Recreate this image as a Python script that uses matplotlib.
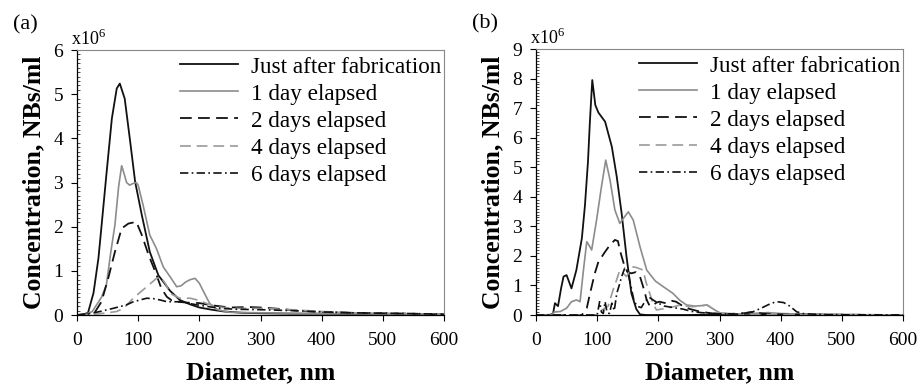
import matplotlib
matplotlib.use("Agg")
import matplotlib.pyplot as plt
from matplotlib.ticker import MultipleLocator

plt.rcParams['font.family'] = ['Liberation Serif', 'DejaVu Serif']
plt.rcParams['mathtext.fontset'] = 'custom'
plt.rcParams['mathtext.rm'] = 'Liberation Serif'

labels = ["Just after fabrication", "1 day elapsed", "2 days elapsed",
          "4 days elapsed", "6 days elapsed"]

# ---- Panel (a) data (diameter nm, concentration x1e6 NBs/ml)
a_fresh_x = [0, 10, 18, 27, 35, 40, 48, 57, 65, 70, 78, 87, 95, 106, 119, 133, 145, 152, 168, 185, 200, 220, 240, 270, 300, 350, 400, 450, 500, 550, 600]
a_fresh_y = [0, 0.01, 0.05, 0.5, 1.28, 2.0, 3.17, 4.45, 5.13, 5.24, 4.9, 3.92, 3.02, 2.26, 1.43, 0.9, 0.68, 0.55, 0.34, 0.24, 0.17, 0.12, 0.08, 0.05, 0.04, 0.03, 0.03, 0.02, 0.02, 0.01, 0.0]

a_1day_x = [0, 15, 25, 32, 40, 48, 55, 62, 68, 73, 77, 81, 86, 92, 97, 100, 108, 119, 130, 141, 152, 163, 170, 178, 185, 193, 200, 208, 217, 230, 250, 300, 350, 400, 500, 600]
a_1day_y = [0, 0.02, 0.08, 0.23, 0.4, 0.68, 1.4, 2.04, 2.9, 3.38, 3.2, 3.0, 2.94, 2.98, 3.0, 2.94, 2.49, 1.81, 1.5, 1.09, 0.87, 0.64, 0.66, 0.75, 0.8, 0.83, 0.72, 0.5, 0.26, 0.12, 0.06, 0.05, 0.04, 0.03, 0.02, 0.01]

a_2day_x = [0, 20, 30, 40, 51, 62, 73, 84, 97, 106, 117, 128, 138, 147, 155, 165, 180, 200, 220, 250, 280, 300, 330, 360, 400, 450, 500, 550, 600]
a_2day_y = [0, 0.02, 0.08, 0.3, 0.83, 1.43, 1.96, 2.07, 2.11, 1.81, 1.36, 0.98, 0.6, 0.41, 0.33, 0.3, 0.28, 0.27, 0.22, 0.17, 0.18, 0.17, 0.14, 0.1, 0.07, 0.05, 0.04, 0.03, 0.01]

a_4day_x = [0, 30, 50, 65, 76, 92, 114, 130, 137, 145, 152, 168, 185, 200, 212, 230, 260, 300, 350, 400, 450, 500, 550, 600]
a_4day_y = [0, 0.02, 0.05, 0.08, 0.15, 0.38, 0.64, 0.83, 0.86, 0.7, 0.49, 0.38, 0.38, 0.33, 0.26, 0.18, 0.15, 0.15, 0.12, 0.08, 0.05, 0.04, 0.03, 0.01]

a_6day_x = [0, 20, 38, 59, 70, 81, 92, 114, 125, 136, 147, 168, 196, 234, 260, 300, 350, 400, 450, 500, 550, 600]
a_6day_y = [0, 0.03, 0.08, 0.15, 0.19, 0.23, 0.3, 0.38, 0.37, 0.34, 0.3, 0.3, 0.23, 0.15, 0.13, 0.12, 0.1, 0.07, 0.05, 0.04, 0.03, 0.02]

# ---- Panel (b) data
b_fresh_x = [0, 20, 25, 28, 31, 36, 41, 45, 50, 58, 66, 75, 80, 85, 88, 92, 97, 102, 113, 124, 132, 140, 148, 156, 164, 170, 180, 250, 300, 400, 600]
b_fresh_y = [0, 0, 0.02, 0.06, 0.4, 0.3, 0.9, 1.3, 1.35, 0.9, 1.52, 2.6, 3.7, 5.2, 6.5, 7.95, 7.1, 6.85, 6.54, 5.69, 4.68, 3.44, 1.97, 0.73, 0.2, 0.02, 0, 0, 0.02, 0.0, 0]

b_1day_x = [0, 25, 30, 40, 50, 58, 66, 72, 78, 83, 87, 91, 99, 107, 114, 121, 129, 137, 145, 151, 159, 170, 181, 195, 208, 224, 235, 246, 260, 272, 280, 290, 301, 320, 350, 380, 400, 450, 600]
b_1day_y = [0, 0, 0.1, 0.12, 0.23, 0.45, 0.51, 0.45, 1.6, 2.48, 2.35, 2.2, 3.21, 4.34, 5.24, 4.57, 3.55, 3.1, 3.33, 3.49, 3.21, 2.31, 1.52, 1.15, 0.96, 0.73, 0.5, 0.34, 0.3, 0.32, 0.34, 0.2, 0.06, 0.03, 0.05, 0.08, 0.05, 0.02, 0]

b_2day_x = [0, 75, 83, 88, 91, 96, 102, 113, 121, 129, 134, 137, 145, 150, 156, 163, 170, 176, 181, 186, 192, 197, 202, 212, 222, 229, 240, 252, 269, 290, 320, 340, 355, 370, 400, 600]
b_2day_y = [0, 0, 0.23, 0.7, 0.96, 1.4, 1.8, 2.14, 2.37, 2.54, 2.5, 2.2, 1.63, 1.45, 1.41, 1.45, 1.3, 0.9, 0.51, 0.3, 0.34, 0.42, 0.45, 0.4, 0.48, 0.45, 0.3, 0.2, 0.11, 0.05, 0.04, 0.06, 0.1, 0.05, 0.02, 0]

b_4day_x = [0, 98, 104, 110, 118, 126, 132, 137, 143, 148, 153, 159, 165, 175, 180, 186, 192, 197, 205, 213, 225, 236, 246, 256, 268, 279, 290, 300, 320, 600]
b_4day_y = [0, 0, 0.1, 0.2, 0.3, 0.85, 1.2, 1.52, 1.4, 1.3, 1.5, 1.63, 1.6, 1.52, 1.1, 0.73, 0.35, 0.17, 0.2, 0.23, 0.28, 0.34, 0.3, 0.28, 0.3, 0.34, 0.2, 0.08, 0.02, 0]

b_6day_x = [0, 100, 104, 107, 110, 113, 116, 120, 124, 128, 132, 136, 140, 145, 150, 155, 160, 165, 172, 178, 185, 192, 200, 210, 225, 240, 255, 270, 300, 330, 355, 370, 385, 394, 405, 415, 426, 436, 460, 500, 600]
b_6day_y = [0, 0, 0.45, 0.1, 0.05, 0.45, 0.1, 0.05, 0.4, 0.15, 0.73, 1.0, 1.3, 1.58, 1.45, 1.0, 0.5, 0.3, 0.25, 0.45, 0.6, 0.5, 0.4, 0.3, 0.25, 0.2, 0.12, 0.08, 0.04, 0.03, 0.11, 0.25, 0.4, 0.45, 0.42, 0.3, 0.11, 0.05, 0.02, 0.01, 0]

x_ticks = [0, 100, 200, 300, 400, 500, 600]
a_yticks = [0, 1, 2, 3, 4, 5, 6]
b_yticks = [0, 1, 2, 3, 4, 5, 6, 7, 8, 9]

BLACK = '#111111'
GRAY = '#8c8c8c'
styles = [
    dict(color=BLACK, lw=1.3, linestyle='-'),
    dict(color=GRAY, lw=1.2, linestyle='-'),
    dict(color=BLACK, lw=1.3, dashes=(6.5, 3.5)),
    dict(color='#9a9a9a', lw=1.2, dashes=(6.5, 3.5)),
    dict(color=BLACK, lw=1.2, dashes=(5, 2, 1, 2)),
]

fig = plt.figure(figsize=(9.23, 3.92), dpi=100)
axA = fig.add_axes([77/923, 77/392, 367/923, 265/392])
axB = fig.add_axes([536/923, 77/392, 367/923, 266/392])

panels = [
    (axA, [(a_fresh_x, a_fresh_y), (a_1day_x, a_1day_y), (a_2day_x, a_2day_y),
           (a_4day_x, a_4day_y), (a_6day_x, a_6day_y)], a_yticks, '(a)'),
    (axB, [(b_fresh_x, b_fresh_y), (b_1day_x, b_1day_y), (b_2day_x, b_2day_y),
           (b_4day_x, b_4day_y), (b_6day_x, b_6day_y)], b_yticks, '(b)'),
]

for ax, series, yt, tag in panels:
    for (xs, ys), st, lab in zip(series, styles, labels):
        ax.plot(xs, ys, label=lab, **st)
    ax.set_xlim(0, 600)
    ax.set_ylim(0, yt[-1])
    ax.set_xticks(x_ticks)
    ax.set_yticks(yt)
    ax.yaxis.set_minor_locator(MultipleLocator(0.1))
    ax.tick_params(axis='both', which='major', labelsize=14, direction='out',
                   length=4, width=0.8, pad=6, colors='black')
    ax.tick_params(axis='x', which='major', pad=8)
    ax.tick_params(axis='y', which='minor', direction='in', length=2.5, width=0.5)
    ax.tick_params(axis='x', which='minor', bottom=False)
    for s in ['top', 'right']:
        ax.spines[s].set_color('#888888')
        ax.spines[s].set_linewidth(0.8)
    for s in ['left', 'bottom']:
        ax.spines[s].set_color('black')
        ax.spines[s].set_linewidth(0.9)
    ax.set_xlabel('Diameter, nm', fontsize=18.5, fontweight='bold', labelpad=9)
    ax.set_ylabel('Concentration, NBs/ml', fontsize=18.5, fontweight='bold', labelpad=6)
    leg = ax.legend(loc='upper right', bbox_to_anchor=(1.0, 0.985), frameon=False,
                    fontsize=16.7, handlelength=2.5, handletextpad=0.6,
                    labelspacing=0.25, borderpad=0.1, borderaxespad=0.0)
    ax.text(-0.015, 1.005, r'x10$^{6}$', transform=ax.transAxes, fontsize=13,
            ha='left', va='bottom')
    ax.text(-0.175, 1.06, tag, transform=ax.transAxes, fontsize=16,
            ha='left', va='bottom')

fig.savefig('out.png', dpi=100)
